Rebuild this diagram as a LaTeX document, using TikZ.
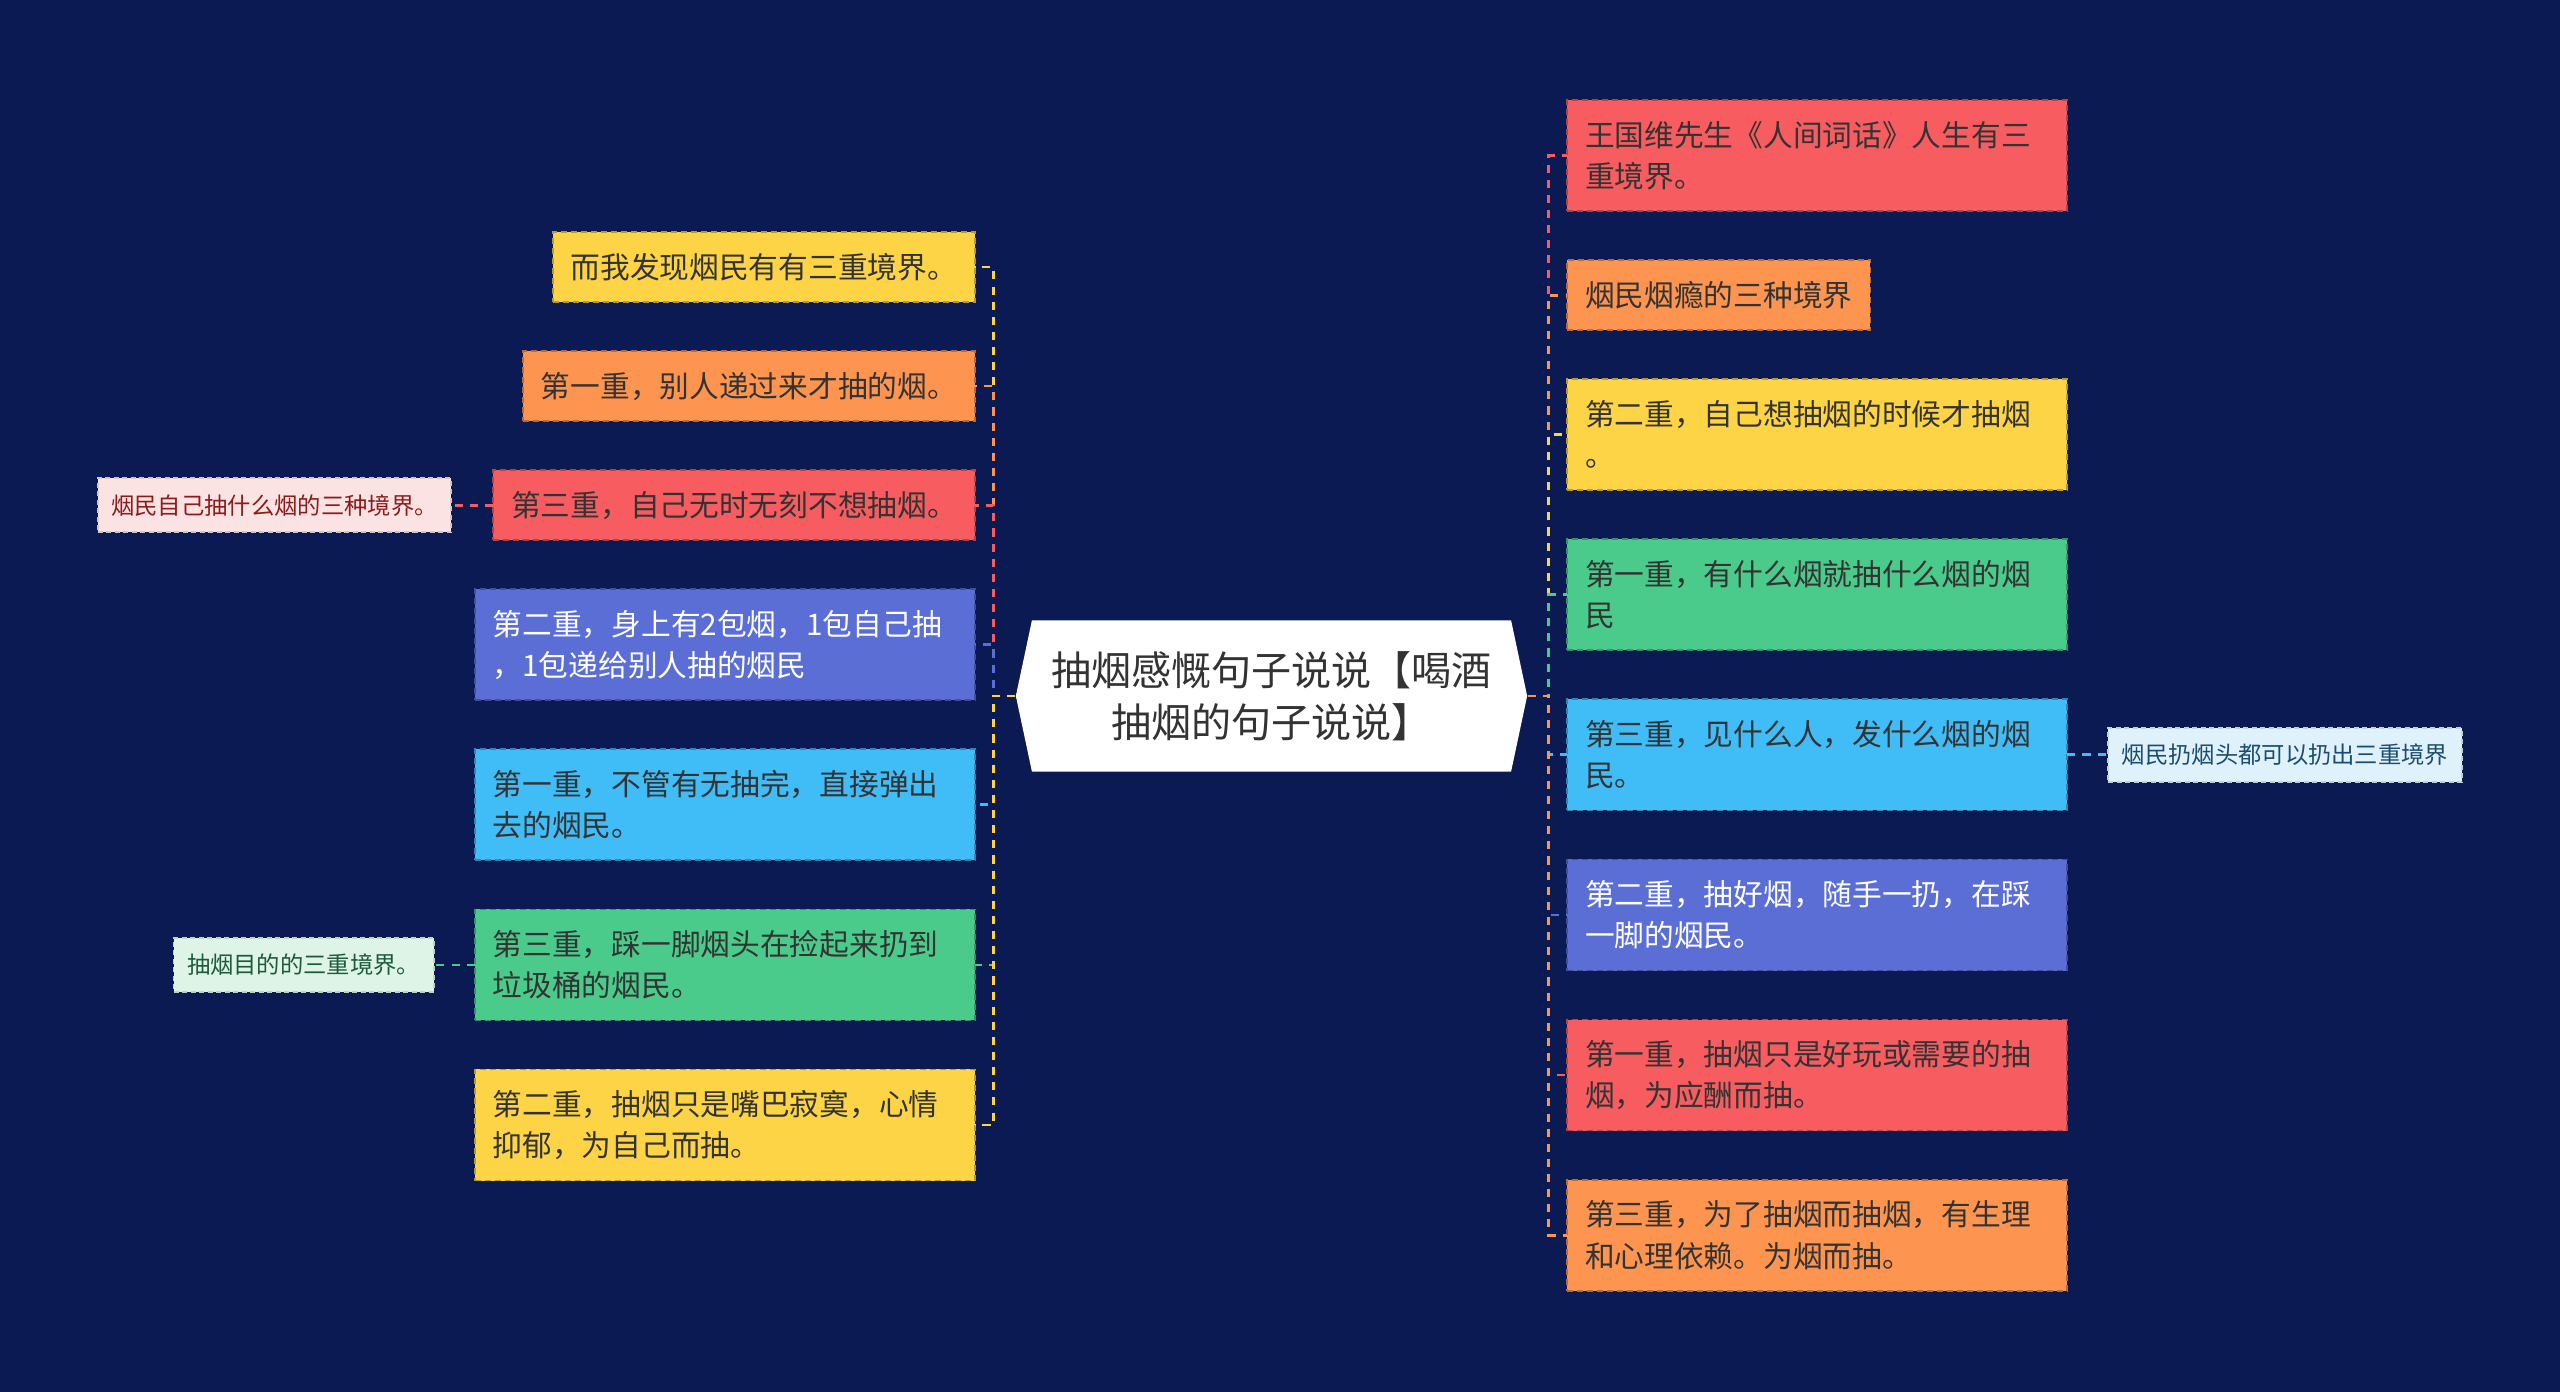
\documentclass[tikz,border=0pt]{standalone}
\usepackage{fontspec}
\setmainfont{Noto Sans CJK SC}
\usetikzlibrary{positioning, shapes.symbols}
\definecolor{mapBg}{HTML}{0C1A53}
\definecolor{mapRed}{HTML}{F75D60}
\definecolor{mapOrange}{HTML}{FD9550}
\definecolor{mapYellow}{HTML}{FDD446}
\definecolor{mapBlue}{HTML}{5A6ED6}
\definecolor{mapSky}{HTML}{40BCF7}
\definecolor{mapGreen}{HTML}{4BCB8B}
\definecolor{mapInk}{HTML}{333333}
\definecolor{notePink}{HTML}{FCE3E3}
\definecolor{notePinkInk}{HTML}{8A1C1C}
\definecolor{noteMint}{HTML}{DDF4E7}
\definecolor{noteMintInk}{HTML}{1D5A3A}
\definecolor{noteIce}{HTML}{DFF2FC}
\definecolor{noteIceInk}{HTML}{1B4D70}

\begin{document}
\begin{tikzpicture}[x=0.01cm, y=-0.01cm,
    node distance=0.49cm,
    hub/.style={shape=signal, signal to=west and east, signal pointer angle=156,
                fill=white, text=mapInk, align=center,
                font=\fontsize{11.4pt}{14.8pt}\selectfont,
                minimum width=5.11cm, minimum height=1.51cm, inner sep=0pt},
    topic/.style={rectangle, fill=#1, draw=#1!72!black, line width=0.5pt,
                  dash pattern=on 0.06cm off 0.04cm, text=mapInk, align=left,
                  font=\fontsize{8.45pt}{11.7pt}\selectfont, outer sep=0pt,
                  inner xsep=0.18cm, inner ysep=0pt, minimum height=0.70cm},
    topic2/.style={topic=#1, text width=4.64cm, minimum height=1.11cm},
    note/.style={rectangle, fill=#1, draw=#1!70!gray, line width=0.5pt,
                 dash pattern=on 0.05cm off 0.035cm, outer sep=0pt,
                 font=\fontsize{6.63pt}{8pt}\selectfont,
                 inner xsep=0.135cm, inner ysep=0pt, minimum height=0.54cm},
    link/.style={draw=#1, line width=0.8pt, dash pattern=on 2.3pt off 2pt},
  ]
    \fill[mapBg] (0,0) rectangle (2560,1392);

    \node[hub] (hub) at (1271.5,696) {抽烟感慨句子说说【喝酒\\抽烟的句子说说】};

    % left branch
    \node[topic=mapYellow, anchor=north east] (l1) at (975,232) {而我发现烟民有有三重境界。};
    \node[topic=mapOrange, below=of l1.south east, anchor=north east] (l2) {第一重，别人递过来才抽的烟。};
    \node[topic=mapRed, below=of l2.south east, anchor=north east] (l3) {第三重，自己无时无刻不想抽烟。};
    \node[topic2=mapBlue, text=white, below=of l3.south east, anchor=north east] (l4) {第二重，身上有2包烟，1包自己抽\\，1包递给别人抽的烟民};
    \node[topic2=mapSky, below=of l4.south east, anchor=north east] (l5) {第一重，不管有无抽完，直接弹出\\去的烟民。};
    \node[topic2=mapGreen, below=of l5.south east, anchor=north east] (l6) {第三重，踩一脚烟头在捡起来扔到\\垃圾桶的烟民。};
    \node[topic2=mapYellow, below=of l6.south east, anchor=north east] (l7) {第二重，抽烟只是嘴巴寂寞，心情\\抑郁，为自己而抽。};

    % right branch
    \node[topic2=mapRed, anchor=north west] (r1) at (1567,100) {王国维先生《人间词话》人生有三\\重境界。};
    \node[topic=mapOrange, below=of r1.south west, anchor=north west] (r2) {烟民烟瘾的三种境界};
    \node[topic2=mapYellow, below=of r2.south west, anchor=north west] (r3) {第二重，自己想抽烟的时候才抽烟\\。};
    \node[topic2=mapGreen, below=of r3.south west, anchor=north west] (r4) {第一重，有什么烟就抽什么烟的烟\\民};
    \node[topic2=mapSky, below=of r4.south west, anchor=north west] (r5) {第三重，见什么人，发什么烟的烟\\民。};
    \node[topic2=mapBlue, text=white, below=of r5.south west, anchor=north west] (r6) {第二重，抽好烟，随手一扔，在踩\\一脚的烟民。};
    \node[topic2=mapRed, below=of r6.south west, anchor=north west] (r7) {第一重，抽烟只是好玩或需要的抽\\烟，为应酬而抽。};
    \node[topic2=mapOrange, below=of r7.south west, anchor=north west] (r8) {第三重，为了抽烟而抽烟，有生理\\和心理依赖。为烟而抽。};

    % side notes
    \node[note=notePink, text=notePinkInk, left=0.42cm of l3] (n1) {烟民自己抽什么烟的三种境界。};
    \node[note=noteMint, text=noteMintInk, left=0.41cm of l6] (n2) {抽烟目的的三重境界。};
    \node[note=noteIce, text=noteIceInk, right=0.41cm of r5] (n3) {烟民扔烟头都可以扔出三重境界};

    \coordinate (lj) at ([xshift=-0.22cm]hub.west);
    \coordinate (rj) at ([xshift=0.21cm]hub.east);

    \draw[link=mapYellow] (hub.west) -- (lj) |- (l1.east);
    \draw[link=mapOrange] (hub.west) -- (lj) |- (l2.east);
    \draw[link=mapRed] (hub.west) -- (lj) |- (l3.east);
    \draw[link=mapBlue] (hub.west) -- (lj) |- (l4.east);
    \draw[link=mapSky] (hub.west) -- (lj) |- (l5.east);
    \draw[link=mapGreen] (hub.west) -- (lj) |- (l6.east);
    \draw[link=mapYellow] (hub.west) -- (lj) |- (l7.east);

    \draw[link=mapRed] (hub.east) -- (rj) |- (r1.west);
    \draw[link=mapOrange] (hub.east) -- (rj) |- (r2.west);
    \draw[link=mapYellow] (hub.east) -- (rj) |- (r3.west);
    \draw[link=mapGreen] (hub.east) -- (rj) |- (r4.west);
    \draw[link=mapSky] (hub.east) -- (rj) |- (r5.west);
    \draw[link=mapBlue] (hub.east) -- (rj) |- (r6.west);
    \draw[link=mapRed] (hub.east) -- (rj) |- (r7.west);
    \draw[link=mapOrange] (hub.east) -- (rj) |- (r8.west);

    \draw[link=mapRed] (l3.west) -- (n1.east);
    \draw[link=mapGreen] (l6.west) -- (n2.east);
    \draw[link=mapSky] (r5.east) -- (n3.west);
  \end{tikzpicture}
\end{document}
